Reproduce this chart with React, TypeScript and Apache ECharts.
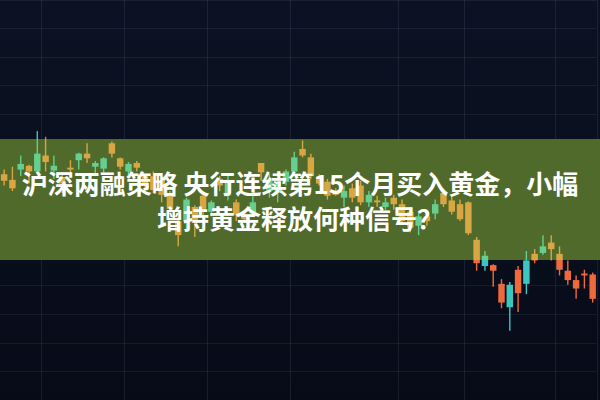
import React, { useEffect, useRef } from "react";
import * as echarts from "echarts";

// ---- data (price units; larger = higher on chart) ----
const CATEGORIES = [
  "1","2","3","4","5","6","7","8","9","10","11","12","13","14","15","16","17","18",
  "19","20","21","22","23","24","25","26","27","28","29","30","31","32","33","34","35","36",
  "37","38","39","40","41","42","43","44","45","46","47","48","49","50","51","52","53","54",
  "55","56","57","58","59","60","61","62","63","64","65","66","67","68","69","70","71","72",
];
const OPEN = [
  241, 235, 246, 250, 244, 261, 245, 238, 248, 256, 263, 249, 247, 274, 258, 244, 253, 239,
  239, 234, 221, 191, 191, 206, 218, 201, 236, 221, 211, 196, 199, 253, 223, 221, 233, 244,
  268, 259, 238, 233, 224, 216, 226, 229, 211, 213, 206, 216, 209, 201, 186, 196, 199, 221,
  213, 209, 211, 171, 143, 144, 124, 99, 139, 124, 156, 157, 168, 156, 138, 128, 135, 134,
];
const CLOSE = [
  234, 226, 252, 244, 263, 254, 250, 231, 246, 263, 258, 253, 258, 263, 249, 252, 248, 231,
  224, 219, 204, 176, 214, 189, 204, 211, 229, 235, 198, 193, 211, 243, 236, 233, 244, 259,
  261, 239, 231, 218, 219, 223, 216, 211, 219, 211, 211, 209, 191, 184, 196, 191, 209, 209,
  201, 193, 178, 146, 154, 138, 104, 123, 114, 149, 149, 164, 161, 139, 128, 119, 133, 108,
];
const LOW = [
  229, 223, 239, 231, 241, 244, 236, 221, 239, 246, 253, 239, 243, 259, 246, 239, 244, 224,
  221, 211, 201, 164, 181, 174, 196, 196, 223, 213, 191, 189, 198, 234, 216, 211, 229, 243,
  259, 236, 229, 214, 218, 206, 211, 208, 206, 206, 203, 203, 188, 179, 176, 186, 193, 206,
  198, 191, 176, 138, 138, 121, 98, 74, 94, 113, 146, 155, 149, 133, 123, 108, 119, 104,
];
const HIGH = [
  246, 249, 261, 251, 287, 281, 261, 241, 256, 264, 274, 255, 259, 276, 259, 254, 255, 241,
  244, 239, 223, 201, 216, 208, 221, 213, 239, 241, 214, 201, 221, 253, 241, 236, 246, 265,
  277, 263, 241, 236, 226, 229, 231, 234, 223, 218, 216, 219, 214, 206, 201, 203, 214, 226,
  218, 214, 212, 174, 159, 145, 129, 126, 143, 159, 161, 176, 176, 164, 149, 133, 139, 136,
];
// category indices that carry a vertical grid line
const V_GRID = [5, 15, 25, 35, 48, 56, 67];

const TITLE_LINE_1 = "沪深两融策略 央行连续第15个月买入黄金，小幅";
const TITLE_LINE_2 = "增持黄金释放何种信号？";

// ---- layout / style ----
const BAND_TOP = 139;
const BAND_BOTTOM = 260;
const UP = "#3cc6c0";
const DOWN = "#ee6a3c";
const UP_BAND = "#66cf8f";
const DOWN_BAND = "#d8a744";

function pieces(x: number, w: number, y0: number, y1: number, up: boolean) {
  const out: any[] = [];
  const ranges: [number, number, boolean][] = [
    [y0, Math.min(y1, BAND_TOP), false],
    [Math.max(y0, BAND_TOP), Math.min(y1, BAND_BOTTOM), true],
    [Math.max(y0, BAND_BOTTOM), y1, false],
  ];
  for (const [a, b, inBand] of ranges) {
    if (b > a) {
      out.push({
        type: "rect",
        shape: { x, y: a, width: w, height: b - a },
        style: { fill: inBand ? (up ? UP_BAND : DOWN_BAND) : up ? UP : DOWN },
      });
    }
  }
  return out;
}

export default function App() {
  const ref = useRef<HTMLDivElement>(null);

  useEffect(() => {
    if (!ref.current) return;
    const chart = echarts.init(ref.current, undefined, { renderer: "svg" });
    const data = OPEN.map((o, i) => [i, o, CLOSE[i], LOW[i], HIGH[i]]);

    chart.setOption({
      animation: false,
      backgroundColor: new echarts.graphic.LinearGradient(0, 0, 0, 1, [
        { offset: 0, color: "#0c1223" },
        { offset: 1, color: "#070b18" },
      ]),
      grid: { left: -6.57, right: 3.17, top: -26, bottom: -1 },
      xAxis: {
        type: "category",
        data: CATEGORIES,
        boundaryGap: true,
        axisLine: { show: false },
        axisTick: { show: false },
        axisLabel: { show: false },
        splitLine: {
          show: true,
          interval: (idx: number) => V_GRID.includes(idx),
          lineStyle: { color: "rgba(140,155,185,0.13)", width: 1 },
        },
      },
      yAxis: {
        type: "value",
        min: 0,
        max: 427,
        interval: 30.5,
        axisLine: { show: false },
        axisTick: { show: false },
        axisLabel: { show: false },
        splitLine: { show: true, lineStyle: { color: "rgba(140,155,185,0.11)", width: 1 } },
      },
      graphic: [
        {
          type: "rect",
          z: 1,
          shape: { x: 0, y: BAND_TOP, width: 600, height: BAND_BOTTOM - BAND_TOP },
          style: { fill: "#4f6a2a" },
        },
        {
          type: "text",
          z: 100,
          x: 300,
          y: 182,
          style: {
            text: TITLE_LINE_1,
            fill: "#ffffff",
            fontSize: 26,
            fontWeight: "bold",
            fontFamily: '"Noto Sans CJK SC", sans-serif',
            align: "center",
            verticalAlign: "middle",
          },
        },
        {
          type: "text",
          z: 100,
          x: 300,
          y: 217,
          style: {
            text: TITLE_LINE_2,
            fill: "#ffffff",
            fontSize: 26,
            fontWeight: "bold",
            fontFamily: '"Noto Sans CJK SC", sans-serif',
            align: "center",
            verticalAlign: "middle",
          },
        },
      ],
      series: [
        {
          type: "custom",
          z: 2,
          clip: false,
          encode: { x: 0, y: [1, 2, 3, 4] },
          data,
          renderItem: (params: any, api: any) => {
            const i = api.value(0);
            const o = api.value(1);
            const c = api.value(2);
            const l = api.value(3);
            const h = api.value(4);
            const pO = api.coord([i, o]);
            const pC = api.coord([i, c]);
            const pL = api.coord([i, l]);
            const pH = api.coord([i, h]);
            const band = api.size([1, 0])[0];
            const bw = band * 0.78;
            const up = c > o;
            const x = pO[0];
            let top = Math.min(pO[1], pC[1]);
            let bot = Math.max(pO[1], pC[1]);
            if (bot - top < 1.6) {
              const m = (top + bot) / 2;
              top = m - 0.8;
              bot = m + 0.8;
            }
            const ww = 1.4;
            const children = [
              ...pieces(x - ww / 2, ww, pH[1], pL[1], up),
              ...pieces(x - bw / 2, bw, top, bot, up),
            ];
            return { type: "group", children };
          },
        },
      ],
    });

    return () => chart.dispose();
  }, []);

  return (
    <div
      ref={ref}
      style={{ position: "fixed", left: 0, top: 0, width: 600, height: 400 }}
    />
  );
}
